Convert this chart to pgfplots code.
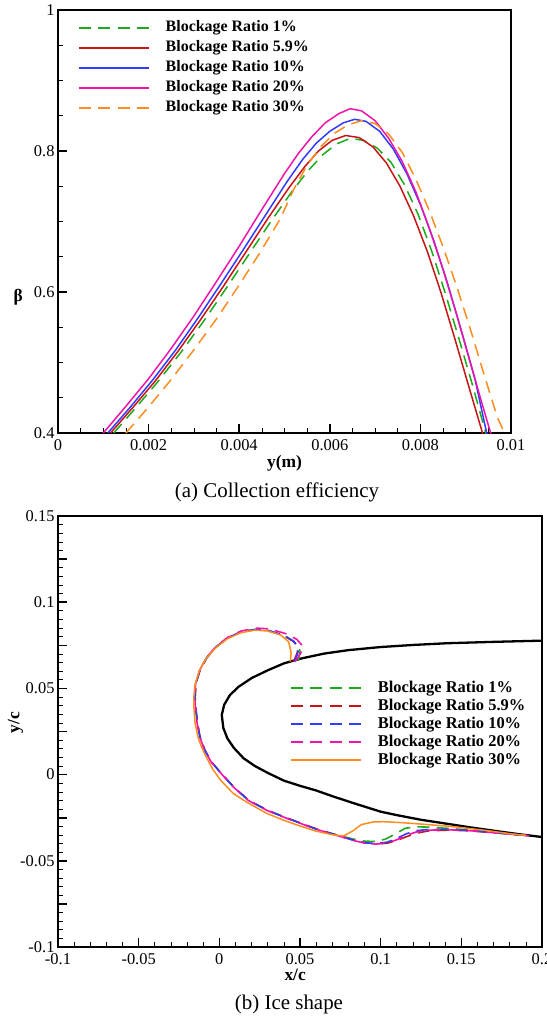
\documentclass[border=0pt]{standalone}
\usepackage{fontspec}
\setmainfont{Liberation Serif}
\usepackage{pgfplots}
\pgfplotsset{compat=1.18}

\definecolor{cgreen}{RGB}{30,170,30}
\definecolor{cred}{RGB}{200,20,20}
\definecolor{cblue}{RGB}{50,60,255}
\definecolor{cpink}{RGB}{240,20,170}
\definecolor{corange}{RGB}{255,140,30}

\tikzset{
  dsh/.style={dash pattern=on 12bp off 7.3bp},
}
\pgfplotsset{
  legend image code/.code={\draw[#1] plot coordinates {(0bp,0bp) (70bp,0bp)}; \path (86bp,0bp);},
  tecplot/.style={
    scale only axis,
    axis line style={line width=1.6bp},
    tick align=inside,
    tick pos=left,
    major tick length=9bp,
    minor tick length=5bp,
    every major tick/.append style={line width=1.6bp, black},
    every minor tick/.append style={line width=0.7bp, black},
    scaled ticks=false,
    /pgf/number format/assume math mode=true,
    /pgf/number format/fixed,
    /pgf/number format/precision=3,
    legend cell align=left,
    xticklabel style={yshift=-3bp},
  },
}

\begin{document}
\begin{tikzpicture}
\useasboundingbox (0bp,0bp) rectangle (547bp,-1017bp);

% (a) collection efficiency
\begin{axis}[tecplot,
  at={(58bp,-433bp)}, anchor=south west,
  width=453bp, height=423bp,
  xmin=0, xmax=0.01, ymin=0.4, ymax=1,
  xtick={0,0.002,0.004,0.006,0.008,0.01},
  ytick={0.4,0.6,0.8,1},
  minor x tick num=3, minor y tick num=3,
  ticklabel style={font=\fontsize{16.5}{16.5}\selectfont},
  xlabel={\textbf{y(m)}},
  ylabel={\textbf{β}},
  label style={font=\fontsize{17.5}{17.5}\selectfont},
  xlabel style={at={(axis description cs:0.5,-0.071)}, anchor=center},
  ylabel style={rotate=-90, at={(axis description cs:-0.088,0.32)}, anchor=center},
  legend style={at={(0.044,0.975)}, anchor=north west, draw=none, fill=none,
    inner sep=0pt, row sep=6bp,
    font=\bfseries\fontsize{16}{16}\selectfont,
    nodes={inner sep=0pt, text height=11bp, text depth=3bp}},
]
\addlegendimage{cgreen, line width=1.6bp, dsh}
\addlegendentry{Blockage Ratio 1\%}
\addlegendimage{cred, line width=1.6bp}
\addlegendentry{Blockage Ratio 5.9\%}
\addlegendimage{cblue, line width=1.6bp}
\addlegendentry{Blockage Ratio 10\%}
\addlegendimage{cpink, line width=1.6bp}
\addlegendentry{Blockage Ratio 20\%}
\addlegendimage{corange, line width=1.6bp, dsh}
\addlegendentry{Blockage Ratio 30\%}
\addplot[forget plot, cgreen, line width=1.5bp, dsh] coordinates {
(0.00123,0.400)(0.00172,0.436)(0.00222,0.474)(0.00272,0.515)(0.00322,0.559)
(0.00372,0.606)(0.00422,0.654)(0.00472,0.702)(0.00517,0.743)(0.00552,0.772)
(0.00585,0.795)(0.00615,0.810)(0.00645,0.818)(0.00675,0.815)(0.00705,0.804)
(0.00735,0.784)(0.00765,0.752)(0.00795,0.710)(0.00825,0.658)(0.00855,0.598)
(0.00885,0.534)(0.00915,0.468)(0.00940,0.410)(0.00945,0.398)};
\addplot[forget plot, cred, line width=1.5bp] coordinates {
(0.00116,0.400)(0.00165,0.436)(0.00215,0.474)(0.00265,0.516)(0.00315,0.561)
(0.00365,0.608)(0.00415,0.657)(0.00465,0.706)(0.00510,0.748)(0.00545,0.778)
(0.00575,0.800)(0.00605,0.815)(0.00635,0.822)(0.00665,0.819)(0.00695,0.806)
(0.00725,0.783)(0.00755,0.750)(0.00785,0.708)(0.00815,0.658)(0.00845,0.600)
(0.00875,0.536)(0.00905,0.470)(0.00938,0.398)};
\addplot[forget plot, cblue, line width=1.5bp] coordinates {
(0.00110,0.400)(0.00160,0.437)(0.00210,0.476)(0.00260,0.518)(0.00310,0.564)
(0.00360,0.612)(0.00410,0.661)(0.00460,0.711)(0.00505,0.756)(0.00540,0.788)
(0.00570,0.811)(0.00600,0.828)(0.00630,0.840)(0.00655,0.845)(0.00680,0.842)
(0.00710,0.828)(0.00740,0.803)(0.00770,0.768)(0.00800,0.724)(0.00830,0.672)
(0.00860,0.612)(0.00890,0.546)(0.00920,0.478)(0.00947,0.398)};
\addplot[forget plot, cpink, line width=1.5bp] coordinates {
(0.00100,0.400)(0.00150,0.438)(0.00200,0.477)(0.00250,0.520)(0.00300,0.566)
(0.00350,0.615)(0.00400,0.665)(0.00450,0.717)(0.00500,0.768)(0.00530,0.796)
(0.00560,0.820)(0.00590,0.840)(0.00620,0.853)(0.00645,0.860)(0.00670,0.857)
(0.00700,0.843)(0.00730,0.818)(0.00760,0.785)(0.00790,0.742)(0.00820,0.690)
(0.00850,0.632)(0.00880,0.568)(0.00910,0.500)(0.00935,0.444)(0.00956,0.398)};
\addplot[forget plot, corange, line width=1.5bp, dsh] coordinates {
(0.00150,0.400)(0.00200,0.437)(0.00250,0.476)(0.00300,0.518)(0.00350,0.562)
(0.00400,0.610)(0.00445,0.655)(0.00490,0.703)(0.00520,0.745)(0.00550,0.780)
(0.00580,0.806)(0.00610,0.825)(0.00640,0.837)(0.00670,0.843)(0.00700,0.839)
(0.00730,0.824)(0.00760,0.798)(0.00790,0.760)(0.00820,0.715)(0.00850,0.664)
(0.00880,0.608)(0.00910,0.548)(0.00940,0.484)(0.00970,0.422)(0.00987,0.398)};
\end{axis}

\node[font=\fontsize{21}{21}\selectfont] at (277bp,-492bp) {(a) Collection efficiency};

% (b) ice shape
\begin{axis}[tecplot,
  at={(58bp,-947bp)}, anchor=south west,
  width=484bp, height=431bp,
  xmin=-0.1, xmax=0.2, ymin=-0.1, ymax=0.15,
  xtick={-0.1,-0.05,0,0.05,0.1,0.15,0.2},
  ytick={-0.1,-0.05,0,0.05,0.1,0.15},
  minor x tick num=4, minor y tick num=9,
  extra y ticks={-0.075,-0.025,0.025,0.075,0.125},
  extra y tick labels={},
  extra y tick style={tick pos=left},
  ticklabel style={font=\fontsize{16.5}{16.5}\selectfont},
  xlabel={\textbf{x/c}},
  ylabel={\textbf{y/c}},
  label style={font=\fontsize{17.5}{17.5}\selectfont},
  xlabel style={at={(axis description cs:0.49,-0.065)}, anchor=center},
  ylabel style={at={(axis description cs:-0.088,0.52)}, anchor=center},
  legend style={at={(axis cs:0.0438,0.0543)}, anchor=north west, draw=none, fill=none,
    inner sep=0pt, row sep=4bp,
    font=\bfseries\fontsize{16.5}{16.5}\selectfont,
    nodes={inner sep=0pt, text height=11bp, text depth=3bp}},
]
\addlegendimage{cgreen, line width=1.6bp, dsh}
\addlegendentry{Blockage Ratio 1\%}
\addlegendimage{cred, line width=1.6bp, dsh}
\addlegendentry{Blockage Ratio 5.9\%}
\addlegendimage{cblue, line width=1.6bp, dsh}
\addlegendentry{Blockage Ratio 10\%}
\addlegendimage{cpink, line width=1.6bp, dsh}
\addlegendentry{Blockage Ratio 20\%}
\addlegendimage{corange, line width=1.6bp}
\addlegendentry{Blockage Ratio 30\%}
\addplot[forget plot, black, line width=2.3bp] coordinates {
(0.200,0.0777)(0.170,0.0770)(0.141,0.0762)(0.120,0.0752)(0.100,0.0740)
(0.080,0.0722)(0.065,0.0702)(0.050,0.0672)(0.040,0.0645)(0.030,0.0605)
(0.020,0.0560)(0.012,0.0510)(0.0066,0.0462)(0.0030,0.0405)(0.0015,0.0346)
(0.0025,0.0270)(0.0050,0.0210)(0.0090,0.0155)(0.0150,0.0095)(0.0220,0.0050)
(0.0300,0.0010)(0.0400,-0.0035)(0.0500,-0.0065)(0.0600,-0.0092)(0.0700,-0.0125)
(0.0830,-0.0165)(0.1000,-0.0215)(0.1100,-0.0235)(0.1250,-0.0262)(0.1410,-0.0285)
(0.1570,-0.0308)(0.1720,-0.0328)(0.1860,-0.0346)(0.2000,-0.0362)};
\addplot[forget plot, cgreen, line width=1.6bp, dsh] coordinates {
(0.0490,0.0660)(0.0500,0.0710)(0.0495,0.0740)(0.0460,0.0774)(0.0400,0.0806)
(0.0300,0.0836)(0.0220,0.0841)(0.0130,0.0826)(0.0050,0.0791)(-0.0020,0.0740)
(-0.0080,0.0675)(-0.0120,0.0605)(-0.0145,0.0530)(-0.0150,0.0450)(-0.0146,0.0390)
(-0.0136,0.0300)(-0.0120,0.0220)(-0.0090,0.0143)(-0.0050,0.0075)(0.0000,0.0020)
(0.0087,-0.0070)(0.0180,-0.0148)(0.0294,-0.0205)(0.0400,-0.0245)(0.0500,-0.0280)
(0.0600,-0.0315)(0.0710,-0.0345)(0.0830,-0.0374)(0.0900,-0.0386)(0.0970,-0.0388)
(0.1030,-0.0374)(0.1090,-0.0345)(0.1150,-0.0312)(0.1220,-0.0302)(0.1300,-0.0305)
(0.1420,-0.0312)(0.1550,-0.0322)(0.1700,-0.0335)(0.1850,-0.0349)(0.1920,-0.0354)};
\addplot[forget plot, cred, line width=1.6bp, dsh] coordinates {
(0.0460,0.0655)(0.0480,0.0700)(0.0490,0.0735)(0.0460,0.0772)(0.0400,0.0806)
(0.0300,0.0836)(0.0220,0.0841)(0.0130,0.0826)(0.0050,0.0791)(-0.0020,0.0740)
(-0.0080,0.0675)(-0.0120,0.0605)(-0.0145,0.0530)(-0.0150,0.0450)(-0.0146,0.0390)
(-0.0136,0.0300)(-0.0120,0.0220)(-0.0090,0.0143)(-0.0050,0.0075)(0.0000,0.0020)
(0.0087,-0.0070)(0.0180,-0.0148)(0.0294,-0.0205)(0.0400,-0.0245)(0.0500,-0.0280)
(0.0600,-0.0315)(0.0710,-0.0346)(0.0830,-0.0380)(0.0900,-0.0395)(0.0970,-0.0402)
(0.1040,-0.0398)(0.1100,-0.0382)(0.1160,-0.0360)(0.1220,-0.0340)(0.1300,-0.0326)
(0.1420,-0.0322)(0.1550,-0.0326)(0.1700,-0.0337)(0.1850,-0.0349)(0.1920,-0.0354)};
\addplot[forget plot, cblue, line width=1.6bp, dsh] coordinates {
(0.0465,0.0655)(0.0485,0.0700)(0.0492,0.0736)(0.0462,0.0773)(0.0402,0.0807)
(0.0302,0.0837)(0.0222,0.0842)(0.0131,0.0827)(0.0050,0.0791)(-0.0021,0.0740)
(-0.0081,0.0675)(-0.0121,0.0605)(-0.0146,0.0530)(-0.0151,0.0450)(-0.0147,0.0390)
(-0.0137,0.0300)(-0.0121,0.0220)(-0.0091,0.0143)(-0.0051,0.0075)(0.0000,0.0020)
(0.0087,-0.0071)(0.0180,-0.0149)(0.0294,-0.0206)(0.0400,-0.0246)(0.0500,-0.0281)
(0.0600,-0.0316)(0.0710,-0.0347)(0.0830,-0.0380)(0.0900,-0.0395)(0.0970,-0.0400)
(0.1040,-0.0392)(0.1100,-0.0370)(0.1160,-0.0343)(0.1220,-0.0325)(0.1300,-0.0318)
(0.1420,-0.0318)(0.1550,-0.0324)(0.1700,-0.0336)(0.1850,-0.0349)(0.1920,-0.0354)};
\addplot[forget plot, cpink, line width=1.6bp, dsh] coordinates {
(0.0470,0.0655)(0.0505,0.0705)(0.0520,0.0742)(0.0480,0.0785)(0.0410,0.0818)
(0.0310,0.0845)(0.0230,0.0850)(0.0135,0.0833)(0.0050,0.0795)(-0.0022,0.0742)
(-0.0082,0.0676)(-0.0122,0.0605)(-0.0147,0.0530)(-0.0152,0.0450)(-0.0148,0.0390)
(-0.0138,0.0300)(-0.0122,0.0220)(-0.0092,0.0143)(-0.0052,0.0075)(0.0000,0.0018)
(0.0087,-0.0072)(0.0180,-0.0150)(0.0294,-0.0207)(0.0400,-0.0247)(0.0500,-0.0282)
(0.0600,-0.0317)(0.0710,-0.0348)(0.0830,-0.0382)(0.0900,-0.0397)(0.0970,-0.0403)
(0.1040,-0.0397)(0.1100,-0.0378)(0.1160,-0.0352)(0.1220,-0.0333)(0.1300,-0.0322)
(0.1420,-0.0320)(0.1550,-0.0325)(0.1700,-0.0337)(0.1850,-0.0349)(0.1920,-0.0354)};
\addplot[forget plot, corange, line width=1.5bp] coordinates {
(0.0440,0.0655)(0.0445,0.0705)(0.0430,0.0770)(0.0380,0.0810)(0.0300,0.0833)
(0.0220,0.0838)(0.0130,0.0822)(0.0050,0.0788)(-0.0020,0.0738)(-0.0085,0.0670)
(-0.0125,0.0600)(-0.0150,0.0525)(-0.0158,0.0450)(-0.0158,0.0394)(-0.0150,0.0297)
(-0.0130,0.0210)(-0.0110,0.0160)(-0.0080,0.0100)(-0.0040,0.0030)(0.0010,-0.0035)
(0.0087,-0.0110)(0.0170,-0.0160)(0.0294,-0.0225)(0.0400,-0.0265)(0.0500,-0.0298)
(0.0600,-0.0328)(0.0708,-0.0350)(0.0770,-0.0356)(0.0830,-0.0325)(0.0880,-0.0290)
(0.0950,-0.0275)(0.1017,-0.0273)(0.1120,-0.0278)(0.1224,-0.0285)(0.1430,-0.0300)
(0.1637,-0.0322)(0.1844,-0.0348)(0.1900,-0.0352)};
\end{axis}

\node[font=\fontsize{21}{21}\selectfont] at (289bp,-1004bp) {(b) Ice shape};
\end{tikzpicture}
\end{document}
